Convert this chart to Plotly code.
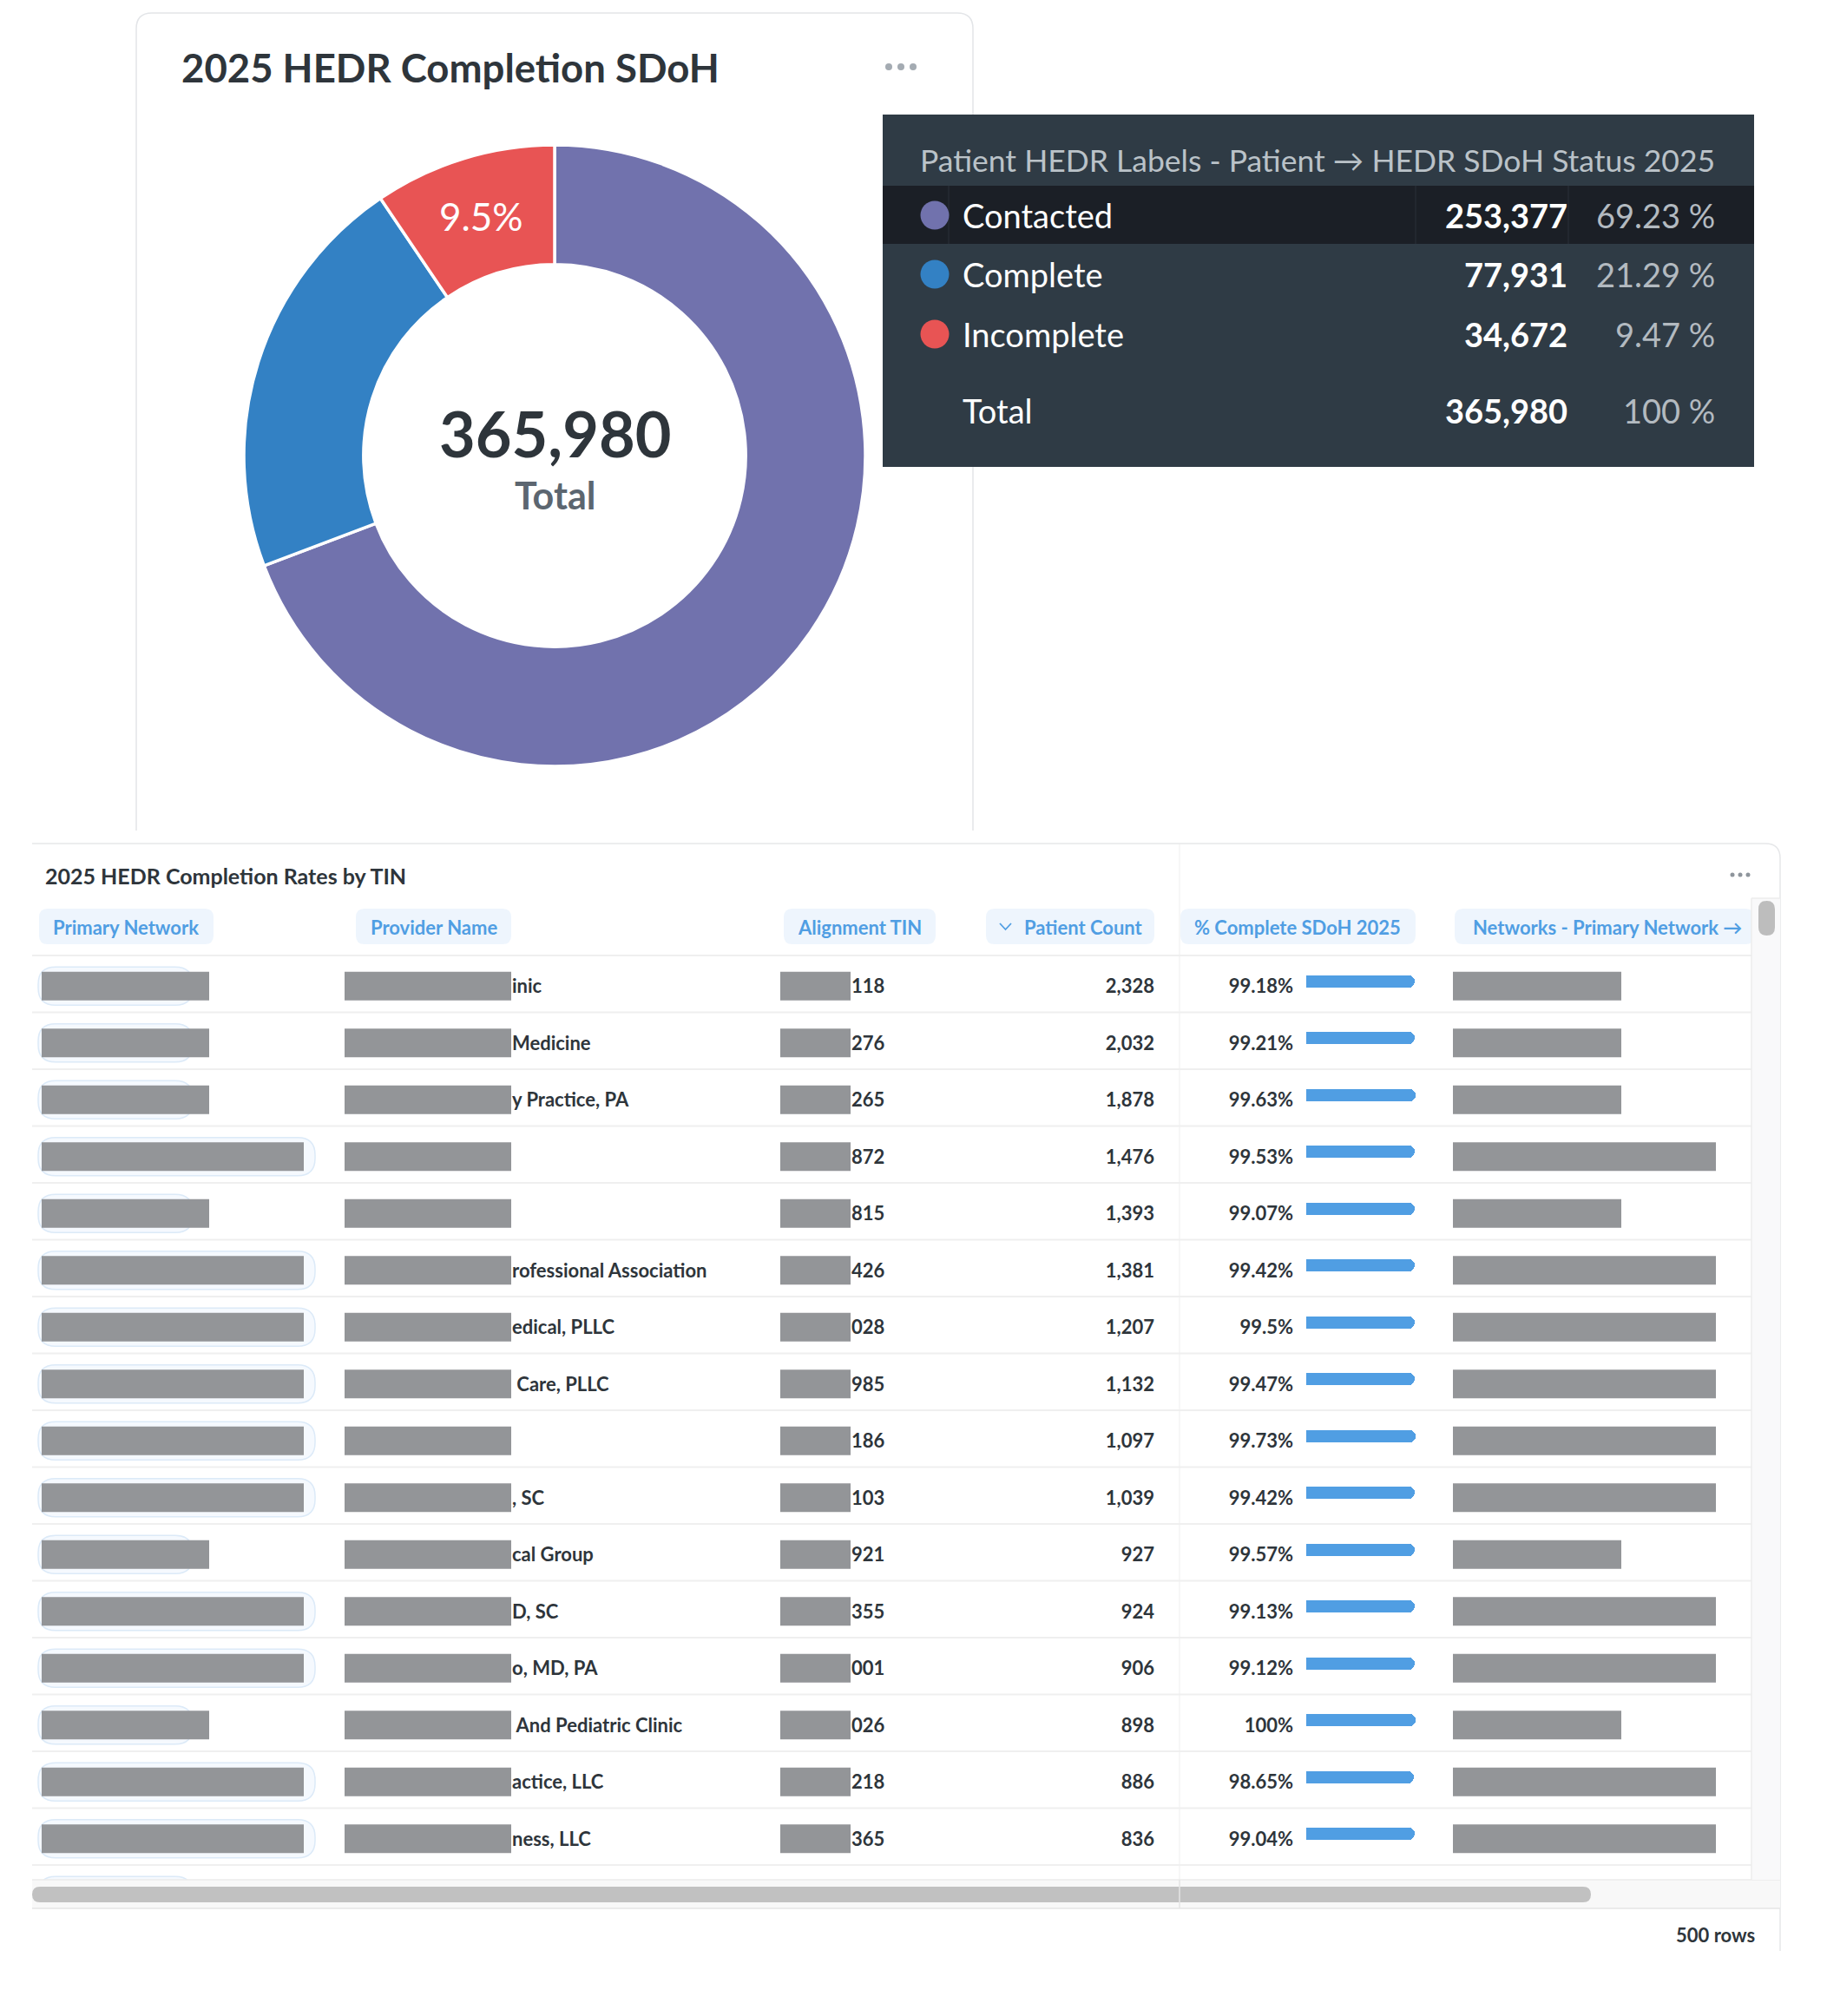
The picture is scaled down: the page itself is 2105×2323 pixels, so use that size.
import plotly.graph_objects as go

W, H = 2105, 2323

# ---------------- data ----------------
status_labels = ["Contacted", "Complete", "Incomplete"]
status_counts = [253377, 77931, 34672]
status_colors = ["#7172AD", "#3381C4", "#E85454"]
donut_title = "2025 HEDR Completion SDoH"
tooltip_header = "Patient HEDR Labels - Patient \u2192 HEDR SDoH Status 2025"
total_label = "Total"

table_title = "2025 HEDR Completion Rates by TIN"
column_names = ["Primary Network", "Provider Name", "Alignment TIN",
                "Patient Count", "% Complete SDoH 2025", "Networks - Primary Network \u2192"]
provider_suffix = ["inic", "Medicine", "y Practice, PA", "", "", "rofessional Association",
                   "edical, PLLC", " Care, PLLC", "", ", SC", "cal Group", "D, SC",
                   "o, MD, PA", " And Pediatric Clinic", "actice, LLC", "ness, LLC"]
tin_suffix = ["118", "276", "265", "872", "815", "426", "028", "985", "186", "103",
              "921", "355", "001", "026", "218", "365"]
patient_count = [2328, 2032, 1878, 1476, 1393, 1381, 1207, 1132, 1097, 1039,
                 927, 924, 906, 898, 886, 836]
pct_complete = [99.18, 99.21, 99.63, 99.53, 99.07, 99.42, 99.5, 99.47, 99.73, 99.42,
                99.57, 99.13, 99.12, 100, 98.65, 99.04]
network_long = [0, 0, 0, 1, 0, 1, 1, 1, 1, 1, 0, 1, 1, 0, 1, 1]
row_total_text = "500 rows"

# ---------------- layout constants (px) ----------------
FONT = "Lato"
DARK = "#2E353B"
BLUE = "#509EE3"
ROW_TOP = 1101.0
ROW_H = 65.5
T_BOT = 2166.0
CELL_DY = 2.5
BAR_X0, BAR_X1 = 1505, 1631
n_rows = len(patient_count)


def rowc(i):
    return ROW_TOP + ROW_H * (i + 0.5) + CELL_DY


def rr(x0, y0, x1, y1, r):
    return (f"M {x0+r} {y0} L {x1-r} {y0} Q {x1} {y0} {x1} {y0+r} L {x1} {y1-r} "
            f"Q {x1} {y1} {x1-r} {y1} L {x0+r} {y1} Q {x0} {y1} {x0} {y1-r} "
            f"L {x0} {y0+r} Q {x0} {y0} {x0+r} {y0} Z")


shapes = []


def add_path(path, fill=None, line=None, lw=0, layer="below"):
    shapes.append(dict(type="path", path=path, xref="x", yref="y", layer=layer,
                       fillcolor=fill if fill else "rgba(0,0,0,0)",
                       line=dict(color=line if line else "rgba(0,0,0,0)", width=lw)))


def add_rect(x0, y0, x1, y1, fill, layer="below"):
    shapes.append(dict(type="rect", x0=x0, x1=x1, y0=y0, y1=y1, xref="x", yref="y",
                       layer=layer, fillcolor=fill, line=dict(width=0)))


def add_line(x0, y0, x1, y1, color, w=1.5, layer="below"):
    shapes.append(dict(type="line", x0=x0, x1=x1, y0=y0, y1=y1, xref="x", yref="y",
                       layer=layer, line=dict(color=color, width=w)))


annotations = []


def ann(x, y, text, size, color, xanchor="left", bold=False):
    annotations.append(dict(x=x, y=y, xref="x", yref="y", text=text, showarrow=False,
                            xanchor=xanchor, yanchor="middle",
                            font=dict(family=FONT, size=size, color=color,
                                      weight="bold" if bold else "normal")))


# ---------------- top card ----------------
add_path("M 157 957 L 157 33 Q 157 15 175 15 L 1103 15 Q 1121 15 1121 33 L 1121 957",
         line="#E3E5E8", lw=1.5)
ann(207, 77, donut_title, 45.5, DARK, bold=True)
for dx in (1024, 1038, 1052):
    shapes.append(dict(type="circle", xref="x", yref="y", x0=dx - 4, x1=dx + 4, y0=73, y1=81,
                       fillcolor="#A4ABB2", line=dict(width=0), layer="below"))

total = sum(status_counts)
ann(639, 499, f"{total:,}", 72, DARK, xanchor="center", bold=True)
ann(639, 570, total_label, 43, "#5C6670", xanchor="center", bold=True)

# tooltip
add_rect(1017, 132, 2021, 538, "#2F3B45")
add_rect(1017, 214, 2021, 281, "#1B1F26")
for sx in (1093, 1631, 1807):
    add_line(sx, 214, sx, 281, "#262B33", 1.5)
ann(1058, 184, tooltip_header, 35.5, "#BAC2C8")
row_y = [248, 316, 385]
for k in range(len(status_labels)):
    ann(1107, row_y[k], status_labels[k], 38, "#FFFFFF")
    ann(1808, row_y[k], f"{status_counts[k]:,}", 38, "#FFFFFF", xanchor="right", bold=True)
    ann(1978, row_y[k], f"{status_counts[k] / total * 100:.2f} %", 38, "#B3BAC0", xanchor="right")
ann(1107, 473, total_label, 38, "#FFFFFF")
ann(1808, 473, f"{total:,}", 38, "#FFFFFF", xanchor="right", bold=True)
ann(1978, 473, "100 %", 38, "#B3BAC0", xanchor="right")

# ---------------- bottom card ----------------
add_path("M 37 972 L 2034 972 Q 2051 972 2051 989 L 2051 2248", line="#E6E7E9", lw=1.5)
ann(50, 1009, table_title, 25, DARK, bold=True)
for dx in (1996, 2005, 2014):
    shapes.append(dict(type="circle", xref="x", yref="y", x0=dx - 2.5, x1=dx + 2.5, y0=1005.5, y1=1010.5,
                       fillcolor="#8E959C", line=dict(width=0), layer="below"))

# column divider
add_line(1359, 973, 1359, 2199, "#F5F5F5", 1.5)

# header pills
pills = [(45, 246), (410, 589), (903, 1078), (1136, 1330), (1360, 1631), (1676, 2021)]
centers = [144.5, 500, 990, 1248, 1494.5, 1851.5]
for (px0, px1) in pills:
    add_path(rr(px0, 1047, px1, 1088, 10), fill="#EEF5FD")
for k, name in enumerate(column_names):
    ann(centers[k], 1068, name, 22, BLUE, xanchor="center", bold=True)
# sort chevron
add_path("M 1152 1064 L 1158.5 1071 L 1165 1064", line=BLUE, lw=1.8)

# row separators
for k in range(n_rows + 1):
    yy = ROW_TOP + ROW_H * k
    add_line(37, yy, 2018, yy, "#EFEFEF", 2)

# redaction pills + boxes
for i in range(n_rows + 1):
    cy = rowc(i)
    px1 = 363 if (i < n_rows and network_long[i]) else 222
    add_path(rr(44, cy - 22, px1, cy + 22, 20), fill="#F5F9FE", line="#DCEAF8", lw=1.5)
for i in range(n_rows):
    cy = rowc(i)
    x1 = 350 if network_long[i] else 241
    add_rect(48, cy - 16.5, x1, cy + 16.5, "#939598", layer="above")
    add_rect(397, cy - 16.5, 589, cy + 16.5, "#939598", layer="above")
    add_rect(899, cy - 16.5, 980, cy + 16.5, "#939598", layer="above")
    nx1 = 1977 if network_long[i] else 1868
    add_rect(1674, cy - 16.5, nx1, cy + 16.5, "#939598", layer="above")

# scroll areas
add_rect(30, 2199, 2050, 2225, "#FFFFFF")
add_rect(37, 2166, 2051, 2199, "#F8F8F8")
add_line(37, 2166, 2051, 2166, "#EBEBEB", 1.5)
add_line(37, 2199, 2051, 2199, "#E6E6E6", 1.5)
add_path(rr(37, 2174, 1833, 2192, 9), fill="#C1C1C1")
add_line(1359, 2166, 1359, 2199, "#E4E4E4", 1.5)
add_rect(2018, 1035, 2051, 2166, "#F9F9FA")
add_line(2018, 1035, 2018, 2166, "#ECECEC", 1.5)
add_line(2018, 1035, 2051, 1035, "#ECECEC", 1.5)
add_path(rr(2026, 1038, 2045, 1078, 9.5), fill="#BDBDBD")

ann(2024, 2229, row_total_text, 22, DARK, xanchor="right", bold=True)

# ---------------- traces ----------------
fig = go.Figure()

pie_text = ["" for _ in status_counts]
pie_text[2] = f"{status_counts[2] / total * 100:.1f}%"
fig.add_trace(go.Pie(
    labels=status_labels, values=status_counts, sort=False, direction="clockwise", rotation=0,
    hole=0.615, marker=dict(colors=status_colors, line=dict(color="white", width=3.5)),
    text=pie_text, textinfo="text", textposition="inside", insidetextorientation="horizontal",
    textfont=dict(family=FONT, size=44, color="white"),
    domain=dict(x=[281 / W, 997 / W], y=[1 - 883 / H, 1 - 167 / H]),
    showlegend=False, hoverinfo="skip"))

# tooltip legend dots
fig.add_trace(go.Scatter(x=[1077] * 3, y=row_y, mode="markers", xaxis="x", yaxis="y",
                         marker=dict(size=33, color=status_colors), hoverinfo="skip", showlegend=False))

rows = list(range(n_rows))
ty = [i + (CELL_DY + 2.4) / ROW_H for i in rows]


def text_trace(xpos, texts, pos):
    return go.Scatter(x=[xpos] * n_rows, y=ty, mode="text", text=texts, textposition=pos,
                      xaxis="x", yaxis="y2", hoverinfo="skip", showlegend=False,
                      textfont=dict(family=FONT, size=22, color=DARK, weight="bold"))


fig.add_trace(text_trace(590, provider_suffix, "middle right"))
fig.add_trace(text_trace(981, tin_suffix, "middle right"))
fig.add_trace(text_trace(1330, [f"{v:,}" for v in patient_count], "middle left"))
fig.add_trace(text_trace(1490, [f"{v:g}%" for v in pct_complete], "middle left"))

fig.add_trace(go.Bar(x=pct_complete, y=[i - 3.0 / ROW_H for i in rows], orientation="h",
                     xaxis="x3", yaxis="y2", width=14 / ROW_H,
                     marker=dict(color=BLUE, cornerradius=7, line=dict(width=0)),
                     hoverinfo="skip", showlegend=False))

fig.update_layout(
    width=W, height=H, margin=dict(l=0, r=0, t=0, b=0),
    paper_bgcolor="white", plot_bgcolor="rgba(0,0,0,0)", showlegend=False,
    xaxis=dict(range=[0, W], domain=[0, 1], visible=False, fixedrange=True, anchor="y"),
    yaxis=dict(range=[H, 0], domain=[0, 1], visible=False, fixedrange=True, anchor="x"),
    yaxis2=dict(range=[(T_BOT - ROW_TOP) / ROW_H - 0.5, -0.5],
                domain=[1 - T_BOT / H, 1 - ROW_TOP / H], visible=False, fixedrange=True, anchor="x"),
    xaxis3=dict(range=[0, 100], domain=[BAR_X0 / W, BAR_X1 / W], visible=False,
                fixedrange=True, anchor="y2"),
    shapes=shapes, annotations=annotations, bargap=0,
)

fig.write_html("out.html")
